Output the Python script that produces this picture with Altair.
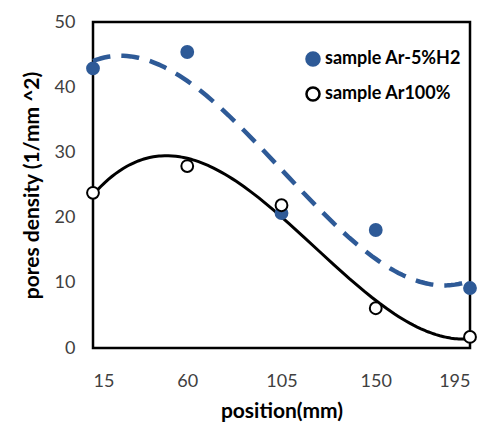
import altair as alt
import pandas as pd

positions = [15, 60, 105, 150, 195]
h2_values = [42.9, 45.4, 20.7, 18.1, 9.2]
ar_values = [23.8, 27.9, 21.9, 6.1, 1.7]
series_names = ["sample Ar-5%H2", "sample Ar100%"]
x_ticks = [15, 60, 105, 150, 195]
y_ticks = [0, 10, 20, 30, 40, 50]

BLUE = "#2E5A97"
FONT = "Lato"

df = pd.DataFrame(
    {
        "position": positions * 2,
        "density": h2_values + ar_values,
        "series": [series_names[0]] * 5 + [series_names[1]] * 5,
    }
)

x_enc = alt.X(
    "position:Q",
    scale=alt.Scale(domain=[15, 195], nice=False, zero=False),
    axis=alt.Axis(values=x_ticks, title="position(mm)"),
)
y_enc = alt.Y(
    "density:Q",
    scale=alt.Scale(domain=[0, 50], nice=False),
    axis=alt.Axis(values=y_ticks, title="pores density (1/mm ^2)"),
)

base = alt.Chart(df)

line_h2 = (
    base.transform_filter(alt.datum.series == series_names[0])
    .transform_regression("position", "density", method="poly", order=3)
    .mark_line(color=BLUE, strokeWidth=4.5, strokeDash=[18, 11])
    .encode(x=x_enc, y=y_enc)
)

line_ar = (
    base.transform_filter(alt.datum.series == series_names[1])
    .transform_regression("position", "density", method="poly", order=3)
    .mark_line(color="black", strokeWidth=3)
    .encode(x=x_enc, y=y_enc)
)

points = base.mark_circle(size=140, opacity=1, strokeWidth=2).encode(
    x=x_enc,
    y=y_enc,
    fill=alt.Fill(
        "series:N",
        scale=alt.Scale(domain=series_names, range=[BLUE, "white"]),
        legend=alt.Legend(
            title=None,
            orient="none",
            legendX=211,
            legendY=28,
            labelFont=FONT,
            labelFontSize=18,
            labelFontWeight="bold",
            labelColor="black",
            symbolSize=170,
            symbolStrokeWidth=2.5,
            rowPadding=11,
            padding=0,
            labelOffset=3,
        ),
    ),
    stroke=alt.Stroke(
        "series:N",
        scale=alt.Scale(domain=series_names, range=[BLUE, "black"]),
    ),
)

chart = (
    alt.layer(line_h2, line_ar, points)
    .properties(
        width=377,
        height=326,
        autosize=alt.AutoSizeParams(type="none"),
        padding={"left": 93, "top": 22, "right": 16, "bottom": 80},
        background="white",
    )
    .configure_view(stroke="black", strokeWidth=2.5)
    .configure_axis(
        domain=False,
        grid=False,
        ticks=False,
        labelFont=FONT,
        labelFontSize=18,
        labelColor="#404040",
        titleFont=FONT,
        titleFontSize=21,
        titleFontWeight="bold",
        titleColor="black",
    )
    .configure_axisX(labelPadding=24, titlePadding=10)
    .configure_axisY(labelPadding=18, titlePadding=12)
)

chart.save("out.html", embed_options={"renderer": "svg", "actions": False})
